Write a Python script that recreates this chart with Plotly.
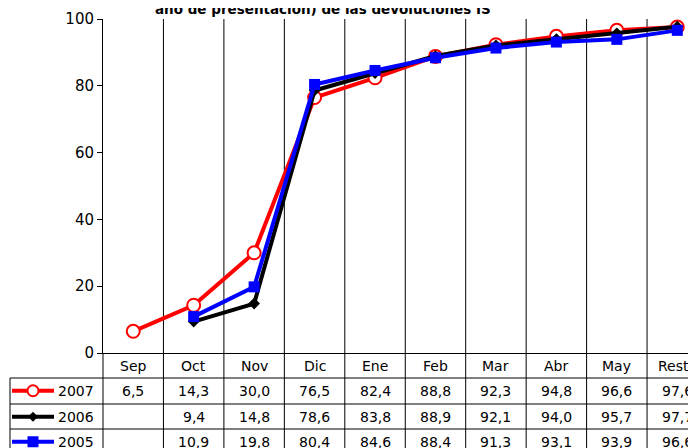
import plotly.graph_objects as go

categories = ["Sep", "Oct", "Nov", "Dic", "Ene", "Feb", "Mar", "Abr", "May", "Resto"]
series_names = ["2007", "2006", "2005"]
values_2007 = [6.5, 14.3, 30.0, 76.5, 82.4, 88.8, 92.3, 94.8, 96.6, 97.6]
values_2006 = [None, 9.4, 14.8, 78.6, 83.8, 88.9, 92.1, 94.0, 95.7, 97.7]
values_2005 = [None, 10.9, 19.8, 80.4, 84.6, 88.4, 91.3, 93.1, 93.9, 96.6]
y_ticks = [0, 20, 40, 60, 80, 100]
title_text = "año de presentación) de las devoluciones IS"

W, H = 696, 448
OFF = 8  # page body margin
ML, MR, MT = 103 - OFF, 0, 19 - OFF
PH = 334
MB = H - MT - PH
PW = W - ML - MR
CAT_W = 60.45
FONT = "DejaVu Sans"

def px_x(p):
    return (p - OFF - ML) / PW

def px_y(p):
    return 1 - (p - OFF - MT) / PH

series = [
    dict(name="2007", vals=values_2007, color="#FF0000",
         marker=dict(symbol="circle", size=13, color="white", line=dict(color="#FF0000", width=2))),
    dict(name="2006", vals=values_2006, color="#000000",
         marker=dict(symbol="diamond", size=9, color="#000000", line=dict(width=0))),
    dict(name="2005", vals=values_2005, color="#0000FF",
         marker=dict(symbol="square", size=11, color="#0000FF", line=dict(width=0))),
]

fig = go.Figure()
xs = list(range(len(categories)))
for s in series:
    fig.add_trace(go.Scatter(
        x=xs, y=s["vals"], mode="lines+markers", name=s["name"],
        line=dict(color=s["color"], width=4), marker=s["marker"],
        cliponaxis=False, connectgaps=False, showlegend=False,
    ))

shapes = []
annotations = []
bottom = px_y(H + 5)

for i in range(len(categories)):
    shapes.append(dict(type="line", xref="x", yref="paper", x0=i + 0.5, x1=i + 0.5,
                       y0=bottom, y1=1, line=dict(color="#000000", width=1), layer="below"))
shapes.append(dict(type="line", xref="paper", yref="paper", x0=0, x1=0, y0=bottom, y1=0,
                   line=dict(color="#000000", width=1)))

row_tops = [353, 378, 404, 429]
row_h = 25.5
TABLE_LEFT = 10
for r in row_tops[1:]:
    shapes.append(dict(type="line", xref="paper", yref="paper", x0=px_x(TABLE_LEFT), x1=1,
                       y0=px_y(r), y1=px_y(r), line=dict(color="#000000", width=1)))
shapes.append(dict(type="line", xref="paper", yref="paper", x0=px_x(TABLE_LEFT), x1=px_x(TABLE_LEFT),
                   y0=px_y(row_tops[1]), y1=bottom, line=dict(color="#000000", width=1)))

for i, c in enumerate(categories):
    annotations.append(dict(x=i, y=px_y(row_tops[0] + row_h / 2), xref="x", yref="paper",
                            text=c, showarrow=False, xanchor="center", yanchor="middle",
                            font=dict(family=FONT, size=14, color="#000000")))

for k, s in enumerate(series):
    yc = px_y(row_tops[k + 1] + row_h / 2)
    for i, v in enumerate(s["vals"]):
        if v is None:
            continue
        annotations.append(dict(x=i, y=yc, xref="x", yref="paper",
                                text=f"{v:.1f}".replace(".", ","), showarrow=False,
                                xanchor="center", yanchor="middle",
                                font=dict(family=FONT, size=14, color="#000000")))
    shapes.append(dict(type="line", xref="paper", yref="paper", x0=px_x(12), x1=px_x(54),
                       y0=yc, y1=yc, line=dict(color=s["color"], width=4)))
    mx, my = px_x(33), yc
    sym = s["marker"]["symbol"]
    if sym == "circle":
        shapes.append(dict(type="circle", xref="paper", yref="paper", xsizemode="pixel", ysizemode="pixel",
                           xanchor=mx, yanchor=my, x0=-5.5, x1=5.5, y0=-5.5, y1=5.5,
                           fillcolor="white", line=dict(color=s["color"], width=2)))
    elif sym == "diamond":
        shapes.append(dict(type="path", xref="paper", yref="paper", xsizemode="pixel", ysizemode="pixel",
                           xanchor=mx, yanchor=my, path="M -5 0 L 0 5 L 5 0 L 0 -5 Z",
                           fillcolor=s["color"], line=dict(width=0)))
    else:
        shapes.append(dict(type="rect", xref="paper", yref="paper", xsizemode="pixel", ysizemode="pixel",
                           xanchor=mx, yanchor=my, x0=-5.5, x1=5.5, y0=-5.5, y1=5.5,
                           fillcolor=s["color"], line=dict(width=0)))
    annotations.append(dict(x=px_x(56), y=yc, xref="paper", yref="paper", text=s["name"],
                            showarrow=False, xanchor="left", yanchor="middle",
                            font=dict(family=FONT, size=14, color="#000000")))

# title: only its lower part is visible at the top edge, as in the reference
annotations.append(dict(x=px_x(323), y=px_y(19), xref="paper", yref="paper", text=f"<b>{title_text}</b>",
                        showarrow=False, xanchor="center", yanchor="bottom",
                        font=dict(family=FONT, size=13.5, color="#000000")))

fig.update_layout(
    width=W, height=H,
    margin=dict(l=ML, r=MR, t=MT, b=MB, pad=0),
    paper_bgcolor="white", plot_bgcolor="white",
    shapes=shapes, annotations=annotations,
    xaxis=dict(range=[-0.5, -0.5 + PW / CAT_W], showticklabels=False, ticks="",
               showgrid=False, zeroline=False, showline=True, linecolor="#000000", linewidth=1),
    yaxis=dict(range=[0, 100], tickvals=y_ticks, ticks="outside", ticklen=5, tickcolor="#000000",
               showgrid=False, zeroline=False, showline=True, linecolor="#000000", linewidth=1,
               tickfont=dict(family=FONT, size=15, color="#000000")),
)

fig.write_html("out.html")
